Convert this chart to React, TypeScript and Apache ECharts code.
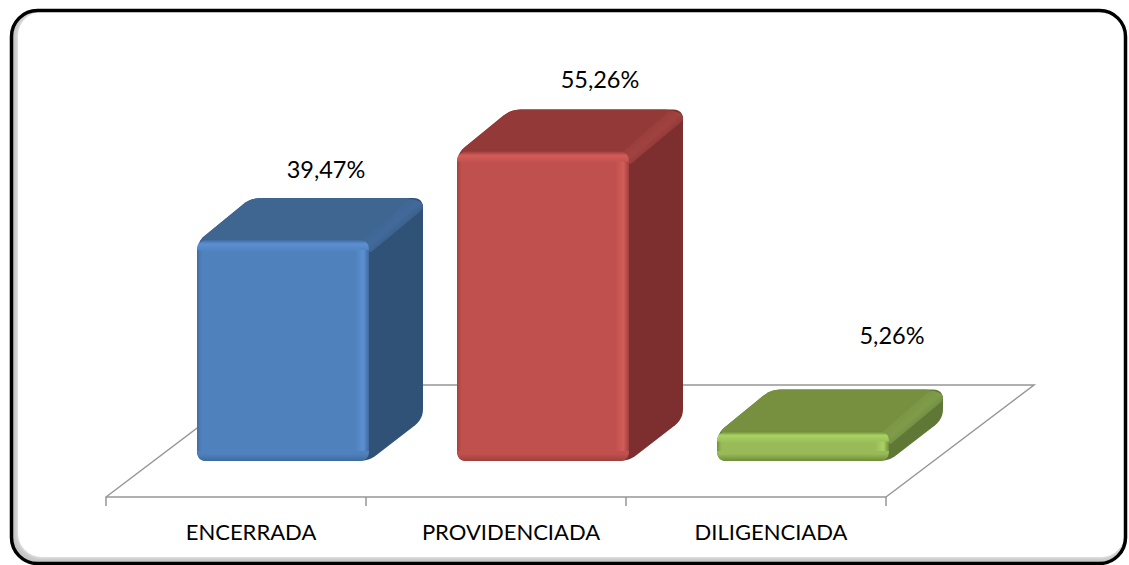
import React, { useEffect, useRef } from "react";
import * as echarts from "echarts";

const categories = ["ENCERRADA", "PROVIDENCIADA", "DILIGENCIADA"];
const values = [39.47, 55.26, 5.26];
const labelNudge = [[43, -71], [57, -73], [89, -97]];
const palette = [
  { base: "#4f81bd", light: "#5c90d2", edge: "#3f6a9f", top: "#3f6591", bevel: "#41699a", side: "#315277" },
  { base: "#c0504d", light: "#d25c58", edge: "#a03f3d", top: "#933a38", bevel: "#a04240", side: "#7c2f2e" },
  { base: "#98ba58", light: "#a9d262", edge: "#6f8c3a", top: "#769040", bevel: "#7f9c4a", side: "#5f7836" },
];

const FONT = "Lato";
const BAR_W = 172;
const BAR_SHIFT = 47;
const DX = 54;
const DY = 42;

function roundedPoly(pts: number[][], r: number) {
  const out: number[][] = [];
  const n = pts.length;
  for (let i = 0; i < n; i++) {
    const p = pts[i], a = pts[(i + n - 1) % n], b = pts[(i + 1) % n];
    const la = Math.hypot(a[0] - p[0], a[1] - p[1]);
    const lb = Math.hypot(b[0] - p[0], b[1] - p[1]);
    const ra = Math.min(r, la / 2), rb = Math.min(r, lb / 2);
    const s = [p[0] + ((a[0] - p[0]) * ra) / la, p[1] + ((a[1] - p[1]) * ra) / la];
    const e = [p[0] + ((b[0] - p[0]) * rb) / lb, p[1] + ((b[1] - p[1]) * rb) / lb];
    for (let k = 0; k <= 6; k++) {
      const t = k / 6, u = 1 - t;
      out.push([u * u * s[0] + 2 * u * t * p[0] + t * t * e[0], u * u * s[1] + 2 * u * t * p[1] + t * t * e[1]]);
    }
  }
  return out;
}

const renderFloor = (params: any) => {
  const c = params.coordSys;
  const bottom = c.y + c.height;
  return {
    type: "polyline",
    silent: true,
    shape: {
      points: [
        [c.x, bottom],
        [c.x + 148, bottom - 112],
        [c.x + c.width + 148, bottom - 112],
        [c.x + c.width, bottom],
      ],
    },
    style: { fill: "none", stroke: "#969696", lineWidth: 1.5 },
  };
};

const renderBar = (params: any, api: any) => {
  const idx = params.dataIndex;
  const v = api.value(1);
  const col = palette[idx];
  const center = api.coord([api.value(0), 0]);
  const x0 = center[0] + BAR_SHIFT - BAR_W / 2;
  const x1 = x0 + BAR_W;
  const yb = center[1];
  const yt = api.coord([api.value(0), v])[1];
  const h = yb - yt;
  const R = Math.min(10, h / 2);
  const vGrad = new echarts.graphic.LinearGradient(0, 0, 0, 1, [
    { offset: 0, color: col.edge },
    { offset: 4 / h, color: col.light },
    { offset: 12 / h, color: col.base },
    { offset: Math.max(12 / h, 1 - 7 / h), color: col.base },
    { offset: 1, color: col.edge },
  ]);
  const rightGrad = new echarts.graphic.LinearGradient(0, 0, 1, 0, [
    { offset: 0, color: col.light + "00" },
    { offset: 0.6, color: col.light },
    { offset: 1, color: col.edge },
  ]);
  const leftGrad = new echarts.graphic.LinearGradient(0, 0, 1, 0, [
    { offset: 0, color: col.edge },
    { offset: 1, color: col.base + "00" },
  ]);
  const bevelGrad = new echarts.graphic.LinearGradient(0, 0, 1, 1, [
    { offset: 0.25, color: col.top },
    { offset: 0.5, color: col.bevel },
    { offset: 0.75, color: col.side },
  ]);
  const front = roundedPoly([[x0, yt], [x1, yt], [x1, yb], [x0, yb]], R);
  const nudge = labelNudge[idx];
  return {
    type: "group",
    children: [
      {
        type: "polygon",
        shape: { points: roundedPoly([[x0, yt + 2], [x0 + DX, yt - DY], [x1 + DX, yt - DY], [x1 + DX, yb - DY], [x1, yb], [x0, yb]], R) },
        style: { fill: col.side },
      },
      {
        type: "polygon",
        shape: { points: roundedPoly([[x0, yt + 2], [x0 + DX, yt - DY], [x1 + DX - 8, yt - DY], [x1, yt + 2]], R) },
        style: { fill: col.top },
      },
      {
        type: "polygon",
        shape: { points: roundedPoly([[x1 - 8, yt + 2], [x1 + DX - 12, yt - DY], [x1 + DX, yt - DY + 5], [x1 + DX, yt - DY + 11], [x1, yt + 14]], 5) },
        style: { fill: bevelGrad },
      },
      { type: "polygon", shape: { points: front }, style: { fill: vGrad } },
      {
        type: "rect",
        shape: { x: x1 - 14, y: yt + R, width: 14, height: Math.max(h - R * 2, 1) },
        style: { fill: rightGrad },
      },
      {
        type: "rect",
        shape: { x: x0, y: yt + R, width: 6, height: Math.max(h - R * 2, 1) },
        style: { fill: leftGrad },
      },
      {
        type: "text",
        style: {
          x: x0 + BAR_W / 2 + nudge[0],
          y: yt + nudge[1],
          text: v.toFixed(2).replace(".", ",") + "%",
          fill: "#000",
          font: `23.5px ${FONT}`,
          align: "center",
          verticalAlign: "middle",
        },
      },
    ],
  };
};

export default function App() {
  const ref = useRef<HTMLDivElement>(null);
  useEffect(() => {
    const chart = echarts.init(ref.current!, null, { renderer: "svg" });
    chart.setOption({
      animation: false,
      backgroundColor: "#fff",
      graphic: [
        {
          type: "rect",
          silent: true,
          z: -10,
          shape: { x: 11.5, y: 10.5, width: 1114, height: 553, r: 26 },
          style: { fill: "#c4c4c4" },
        },
        {
          type: "rect",
          silent: true,
          z: -9,
          shape: { x: 18, y: 12, width: 1107, height: 545, r: 24 },
          style: { fill: "#fff", shadowBlur: 5, shadowColor: "#fff" },
        },
        {
          type: "rect",
          silent: true,
          z: -8,
          shape: { x: 11.5, y: 10.5, width: 1114, height: 553, r: 26 },
          style: { fill: "none", stroke: "#000", lineWidth: 3.5 },
        },
      ],
      grid: { left: 106, top: 69, width: 780, height: 428 },
      xAxis: {
        type: "category",
        data: categories,
        axisLine: { onZero: false, lineStyle: { color: "#969696", width: 1.5 } },
        axisTick: { show: true, length: 9, alignWithLabel: false, lineStyle: { color: "#969696", width: 1.5 } },
        axisLabel: { color: "#000", fontFamily: FONT, fontSize: 22, margin: 23, padding: [0, 0, 0, 30] },
      },
      yAxis: { type: "value", min: -6.43, max: 70, show: false },
      series: [
        { type: "custom", renderItem: renderFloor, data: [[0, 0]], clip: false, silent: true, z: 1 },
        {
          type: "custom",
          renderItem: renderBar,
          data: values.map((v, i) => [i, v]),
          encode: { x: 0, y: 1 },
          clip: false,
          z: 2,
        },
      ],
    });
    return () => chart.dispose();
  }, []);
  return <div ref={ref} style={{ position: "fixed", left: 0, top: 0, width: 1129, height: 565 }} />;
}
